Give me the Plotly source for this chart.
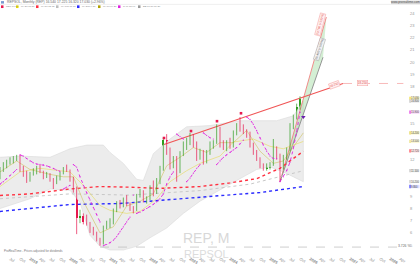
import plotly.graph_objects as go

# ---------------- data (month index: 0 = Jan 2018) ----------------
months = list(range(3, 94))  # Apr 2018 .. Oct 2025
opens = [10.5, 11.2, 11.6, 11.8, 11.9, 12.1, 12.2, 11.2, 10.9, 10.3, 10.9, 11.1, 11.2, 11.0, 10.6, 10.8, 10.4, 10.1,
         10.6, 10.9, 11.2, 11.1, 10.4, 9.6, 7.2, 7.4, 6.9, 6.8, 6.2, 6.0, 5.4, 5.1, 6.5, 6.7, 6.8, 7.9, 8.4, 8.2, 8.7,
         8.4, 8.0, 7.9, 9.0, 9.4, 8.7, 8.8, 9.7, 9.6, 10.2, 11.3, 13.6, 12.8, 11.5, 12.1, 11.0, 12.5, 13.3, 13.5, 13.9,
         13.3, 12.4, 12.5, 11.8, 12.6, 13.3, 13.4, 14.6, 13.2, 13.0, 13.5, 13.2, 14.2, 14.8, 14.6, 14.3, 14.0, 13.2,
         12.6, 12.0, 11.5, 11.3, 11.4, 11.6, 12.9, 12.3, 11.4, 12.2, 12.8, 14.8, 15.5, 16.3]
highs = [11.4, 11.8, 12.0, 12.2, 12.3, 12.4, 12.4, 11.5, 11.1, 11.0, 11.3, 11.5, 11.6, 11.1, 11.0, 10.9, 10.5, 10.7,
         11.0, 11.4, 11.6, 11.2, 10.6, 9.8, 7.9, 7.6, 7.5, 6.9, 6.5, 6.1, 5.6, 6.6, 7.0, 7.2, 8.0, 8.6, 8.7, 8.9, 9.1,
         8.5, 8.2, 9.2, 9.6, 9.5, 9.0, 9.9, 10.3, 10.5, 11.5, 13.8, 14.1, 13.0, 12.3, 12.3, 12.7, 13.5, 13.8, 14.2,
         14.1, 13.5, 12.9, 12.8, 12.8, 13.5, 13.6, 14.9, 14.7, 13.6, 13.6, 13.8, 14.4, 15.0, 15.5, 14.9, 14.5, 14.3,
         13.4, 12.8, 12.2, 11.7, 11.7, 11.8, 13.7, 13.1, 12.5, 12.4, 13.0, 15.0, 15.7, 16.6, 17.2]
lows = [10.4, 11.0, 11.3, 11.6, 11.7, 11.9, 11.0, 10.6, 10.1, 10.2, 10.7, 10.8, 10.9, 10.4, 10.5, 10.2, 9.6, 10.0,
        10.3, 10.8, 11.0, 10.2, 9.3, 5.9, 6.8, 6.7, 6.6, 6.0, 5.8, 5.3, 4.95, 5.05, 6.3, 6.4, 6.7, 7.7, 8.0, 8.1, 8.2,
        7.8, 7.6, 7.8, 8.9, 8.5, 8.4, 8.7, 9.0, 9.2, 10.0, 11.1, 12.4, 11.2, 11.3, 10.2, 10.9, 12.3, 12.8, 13.2, 13.0,
        11.9, 12.0, 11.6, 11.7, 12.4, 12.9, 13.3, 13.0, 12.8, 12.7, 12.9, 13.0, 14.0, 14.3, 14.1, 13.8, 13.0, 12.4,
        11.9, 11.3, 11.1, 11.1, 11.2, 11.5, 12.0, 10.2, 11.2, 12.0, 12.7, 14.5, 15.3, 16.1]
closes = [11.2, 11.6, 11.8, 11.9, 12.1, 12.2, 11.2, 10.9, 10.3, 10.9, 11.1, 11.2, 11.0, 10.6, 10.8, 10.4, 10.1, 10.6,
          10.9, 11.2, 11.1, 10.4, 9.6, 7.2, 7.4, 6.9, 6.8, 6.2, 6.0, 5.4, 5.1, 6.5, 6.7, 6.8, 7.9, 8.4, 8.2, 8.7, 8.4,
          8.0, 7.9, 9.0, 9.4, 8.7, 8.8, 9.7, 9.6, 10.2, 11.3, 13.6, 12.8, 11.5, 12.1, 11.0, 12.5, 13.3, 13.5, 13.9,
          13.3, 12.4, 12.6, 11.8, 12.6, 13.3, 13.4, 14.6, 13.2, 13.0, 13.5, 13.2, 14.2, 14.8, 14.6, 14.3, 14.0, 13.2,
          12.6, 12.0, 11.5, 11.3, 11.4, 11.5, 12.9, 12.3, 11.4, 12.2, 12.8, 14.8, 15.5, 16.3, 17.0]

# Parabolic SAR values per month, and months where it flips side
sar = [10.0, 10.2, 10.45, 10.7, 10.95, 11.2, 12.4, 12.3, 12.1, 11.9, 11.75, 11.65, 11.62, 11.58, 11.5, 11.4, 11.3,
       11.15, 11.05, 9.6, 9.75, 9.9, 11.6, 11.4, 10.6, 9.9, 9.3, 8.7, 8.1, 7.5, 6.9, 4.95, 5.05, 5.2, 5.4, 5.7, 6.1,
       6.5, 6.9, 7.3, 9.1, 7.6, 7.7, 7.85, 8.0, 8.15, 8.35, 8.55, 8.8, 9.2, 10.0, 10.6, 11.0, 14.1, 13.9, 13.7, 10.2,
       10.5, 10.9, 11.3, 11.6, 14.2, 14.0, 13.8, 13.7, 11.6, 11.9, 12.2, 12.4, 12.6, 12.8, 13.0, 13.3, 13.6, 15.5,
       15.3, 14.9, 14.4, 13.8, 13.2, 12.7, 12.3, 12.1, 12.1, 10.2, 10.6, 11.1, 11.8, 12.9, 14.3, 15.9]
sar_flips = [9, 22, 25, 34, 43, 44, 56, 59, 64, 68, 77, 87]

# Bollinger bands (read points)
bb_up_m = [3, 9, 18, 24, 29, 34, 36, 40, 44, 46, 49, 54, 59, 66, 75, 86, 91, 94]
bb_up = [12.2, 12.3, 12.2, 12.9, 13.2, 13.2, 12.6, 11.7, 10.4, 10.3, 12.5, 13.7, 14.7, 14.8, 15.2, 15.2, 15.6, 16.8]
bb_lo_m = [3, 12, 18, 24, 27, 30, 33, 36, 40, 44, 48, 53, 58, 63, 68, 74, 80, 84, 88, 94]
bb_lo = [8.0, 8.8, 9.6, 9.5, 8.5, 5.8, 4.9, 4.6, 4.6, 4.9, 5.6, 6.4, 7.6, 8.6, 9.4, 10.3, 11.2, 11.4, 11.0, 10.2]
bb_mid_m = [3, 9, 15, 24, 28, 33, 36, 41, 45, 50, 54, 59, 63, 69, 73, 79, 84, 88, 94]
bb_mid = [9.8, 11.0, 11.3, 11.0, 9.9, 8.25, 7.85, 7.6, 7.76, 8.8, 10.2, 11.1, 11.7, 12.3, 13.45, 13.7, 13.1, 12.9, 13.5]

# moving averages (read points)
ma_fast_m = [3, 8, 12, 18, 22, 25, 28, 33, 37, 41, 45, 49, 53, 57, 61, 65, 69, 73, 77, 81, 85, 88, 94]
ma_fast = [11.0, 11.9, 11.2, 10.8, 10.6, 10.6, 8.6, 6.0, 6.5, 8.2, 8.6, 9.2, 11.5, 12.2, 13.0, 12.6, 13.4, 13.4,
           14.4, 12.7, 11.7, 11.9, 14.2]
ma_red_m = [3, 12, 24, 33, 42, 51, 63, 72, 80, 87, 94]
ma_red = [9.07, 9.2, 9.6, 9.8, 9.75, 9.65, 9.8, 10.1, 10.45, 11.3, 12.7]
ma_gray_m = [3, 24, 42, 63, 78, 94]
ma_gray = [8.8, 9.2, 9.1, 9.47, 10.0, 11.1]
ma_blue_m = [3, 24, 39, 51, 66, 81, 94]
ma_blue = [7.76, 8.33, 8.41, 8.66, 8.98, 9.31, 9.8]

# drawings
trend_m = [52.2, 105.9]
trend_p = [13.25, 18.25]
fan_m = [87.0, 100.9, 99.9]
fan_p = [10.2, 23.7, 20.4]
fractal_m = [52.2, 60.3, 68.1, 75.3]
fractal_p = [13.78, 14.35, 15.16, 15.81]

year_ticks = list(range(6, 127, 3))
month_names = {3: "Apr", 6: "Jul", 9: "Oct"}
tick_text = []
for m in year_ticks:
    if m % 12 == 0:
        tick_text.append("<b>%d</b>" % (2018 + m // 12))
    else:
        tick_text.append(month_names[m % 12])

# right axis value labels: (value, colour, background)
value_labels = [(17.03, "#f0dc30", "#fbf3c0"), (16.80, "#bbbbbb", "#eeeeee"), (15.90, "#e020e0", "#f8d8f8"),
                (14.20, "#e0d040", "#faf5c8"), (13.50, "#e8dc70", "#fbf7d6"), (12.72, "#ff3040", "#fde0e2"),
                (11.10, "#bdbdbd", "#efefef"), (10.20, "#bdbdbd", "#f7f7f7"), (9.80, "#2b2bff", "#dcdcff")]
price_ticks = [p for p in range(5, 25) if all(abs(p - v) > 0.3 for v, _, _ in value_labels)]

legend_items = [(1, "#e8194f", "REP 17.03"), (16, "#e8d800", "MA20 13.50"), (36, "#ff3040", "MA50 12.72"),
                (56, "#bdbdbd", "MA100 11.10"), (77, "#2b2bff", "MA200 9.80"),
                (98, "#b0a000", "MA10 14.20"), (118, "#e020e0", "SAR 15.90"),
                (138, "#9a9a9a", "BB 16.80 10.20")]

# ---------------- layout helpers ----------------
W, H = 420, 265
ML, MR, MT, MB = 0, 14, 12, 8
PW, PH = W - ML - MR, H - MT - MB


def fx(x):
    return (x - ML) / PW


def fy(y):
    return (H - MB - y) / PH


def ypx(v):
    return 247 - (v - 5) * 12.3


GREEN = "#2f9e1f"
RED = "#e8194f"

fig = go.Figure()

# Bollinger fill
fig.add_trace(go.Scatter(x=bb_up_m + bb_lo_m[::-1], y=bb_up + bb_lo[::-1], mode="lines", fill="toself",
                         fillcolor="#ececec", line=dict(color="#dadada", width=0.6), hoverinfo="skip"))

# fan / channel drawing
fig.add_trace(go.Scatter(x=fan_m, y=fan_p, mode="none", fill="toself", fillcolor="rgba(160,220,160,0.45)",
                         hoverinfo="skip"))
fig.add_trace(go.Scatter(x=[fan_m[0], fan_m[1]], y=[fan_p[0], fan_p[1]], mode="lines",
                         line=dict(color="#f08080", width=0.9)))
fig.add_trace(go.Scatter(x=[fan_m[0], fan_m[2]], y=[fan_p[0], fan_p[2]], mode="lines",
                         line=dict(color="#8a8a8a", width=0.9)))

# moving averages
fig.add_trace(go.Scatter(x=ma_blue_m, y=ma_blue, mode="lines", line=dict(color="#2b2bff", width=1.4, dash="dot")))
fig.add_trace(go.Scatter(x=ma_gray_m, y=ma_gray, mode="lines", line=dict(color="#c8c8c8", width=1.0, dash="dot")))
fig.add_trace(go.Scatter(x=ma_red_m, y=ma_red, mode="lines", line=dict(color="#ff3040", width=1.4, dash="dot")))
fig.add_trace(go.Scatter(x=bb_mid_m, y=bb_mid, mode="lines", line=dict(color="#e8dc70", width=0.7)))
fig.add_trace(go.Scatter(x=ma_fast_m, y=ma_fast, mode="lines", line=dict(color="#c8b840", width=0.5)))

# trend line
fig.add_trace(go.Scatter(x=trend_m, y=trend_p, mode="lines", line=dict(color="#f05555", width=1.1)))
fig.add_trace(go.Scatter(x=[trend_m[1], 124], y=[trend_p[1], trend_p[1]], mode="lines",
                         line=dict(color="#f6a8a8", width=0.8, dash="dash")))

# candles: wicks + bodies
for up, col in ((True, GREEN), (False, RED)):
    wx, wy = [], []
    for m, o, h, l, c in zip(months, opens, highs, lows, closes):
        if (c >= o) == up:
            wx += [m, m, None]
            wy += [l, h, None]
    fig.add_trace(go.Scatter(x=wx, y=wy, mode="lines", line=dict(color=col, width=0.7), hoverinfo="skip"))
fig.add_trace(go.Bar(x=months, y=[max(abs(c - o), 0.06) for o, c in zip(opens, closes)],
                     base=[min(o, c) for o, c in zip(opens, closes)],
                     marker=dict(color=[GREEN if c >= o else RED for o, c in zip(opens, closes)],
                                 line=dict(width=0)),
                     width=0.62, hoverinfo="skip"))

# SAR segments
sx, sy = [], []
for m, v in zip(months, sar):
    if m in sar_flips:
        sx.append(None)
        sy.append(None)
    sx.append(m)
    sy.append(v)
fig.add_trace(go.Scatter(x=sx, y=sy, mode="lines", line=dict(color="#e020e0", width=0.9, dash="dot")))
fig.add_trace(go.Scatter(x=months, y=sar, mode="markers", marker=dict(color="#e020e0", size=1.2)))

# fractal markers
fig.add_trace(go.Scatter(x=fractal_m, y=fractal_p, mode="markers",
                         marker=dict(symbol="square", color=RED, size=2.6)))
# signal marker
fig.add_trace(go.Scatter(x=[94.0], y=[15.5], mode="markers",
                         marker=dict(symbol="triangle-down", color="#6a1fb0", size=4)))

# low reference dashed line
fig.add_trace(go.Scatter(x=[33, 124], y=[4.84, 4.84], mode="lines",
                         line=dict(color="#b8b8b8", width=0.7, dash="dash")))

fig.update_layout(
    width=W, height=H, margin=dict(l=ML, r=MR, t=MT, b=MB),
    paper_bgcolor="white", plot_bgcolor="white", showlegend=False, bargap=0,
    font=dict(family="Liberation Sans, Arial, sans-serif", color="#777"),
    xaxis=dict(range=[3.0, 3.0 + PW / 3.3333], tickvals=year_ticks, ticktext=tick_text,
               tickfont=dict(size=4, color="#888"), showgrid=False, zeroline=False, showline=False,
               ticks="", fixedrange=True, ticklabelstandoff=0),
    yaxis=dict(range=[4.19, 24.11], side="right", tickvals=price_ticks,
               tickfont=dict(size=4, color="#999"), showgrid=False, zeroline=False, showline=False,
               ticks="", fixedrange=True, ticklabelstandoff=3),
)

ann = []
shapes = []
# watermark
ann.append(dict(x=fx(206), y=fy(240), xref="paper", yref="paper", text="REP, M", showarrow=False,
                font=dict(size=14, color="#d8d8d8", family="Liberation Sans, Arial"), xanchor="center",
                yanchor="middle"))
ann.append(dict(x=fx(206), y=fy(255.5), xref="paper", yref="paper", text="REPSOL", showarrow=False,
                font=dict(size=11, color="#dcdcdc", family="Liberation Sans, Arial"), xanchor="center",
                yanchor="middle"))
# header
shapes.append(dict(type="line", xref="paper", yref="paper", x0=fx(0), x1=fx(420), y0=fy(4.3), y1=fy(4.3),
                   line=dict(color="#e4e4e4", width=0.6)))
ann.append(dict(x=fx(5), y=fy(2.2), xref="paper", yref="paper",
                text="REPSOL, Monthly (REP) 16.540 17.225 16.320 17.030 (+2.96%)", showarrow=False,
                font=dict(size=3.4, color="#666"), xanchor="left", yanchor="middle"))
shapes.append(dict(type="rect", xref="paper", yref="paper", x0=fx(1), x1=fx(4), y0=fy(3.5), y1=fy(1),
                   fillcolor="#7a9bd0", line=dict(width=0)))
shapes.append(dict(type="rect", xref="paper", yref="paper", x0=fx(391), x1=fx(420), y0=fy(4), y1=fy(0.5),
                   fillcolor="#d4d4d4", line=dict(width=0)))
ann.append(dict(x=fx(405), y=fy(2.2), xref="paper", yref="paper", text="www.prorealtime.com", showarrow=False,
                font=dict(size=3, color="#555"), xanchor="center", yanchor="middle"))
for x, c, t in legend_items:
    shapes.append(dict(type="rect", xref="paper", yref="paper", x0=fx(x), x1=fx(x + 2.5), y0=fy(8), y1=fy(5.3),
                       fillcolor=c, line=dict(width=0)))
    ann.append(dict(x=fx(x + 3.0), y=fy(6.7), xref="paper", yref="paper", text=t, showarrow=False,
                    font=dict(size=2.5, color="#888"), xanchor="left", yanchor="middle"))
# bottom-left source text
ann.append(dict(x=fx(2), y=fy(253), xref="paper", yref="paper",
                text="ProRealTime - Prices adjusted for dividends", showarrow=False,
                font=dict(size=3, color="#777"), xanchor="left", yanchor="middle"))
ann.append(dict(x=fx(396), y=fy(247.5), xref="paper", yref="paper", text="3.726 %", showarrow=False,
                font=dict(size=3.4, color="#666"), xanchor="left", yanchor="middle"))

for v, c, bg in value_labels:
    yv = ypx(v)
    shapes.append(dict(type="rect", xref="paper", yref="paper", x0=fx(409.5), x1=fx(419.5), y0=fy(yv + 1.7),
                       y1=fy(yv - 1.7), fillcolor=bg, line=dict(width=0)))
    shapes.append(dict(type="rect", xref="paper", yref="paper", x0=fx(409.5), x1=fx(410.5), y0=fy(yv + 1.7),
                       y1=fy(yv - 1.7), fillcolor=c, line=dict(width=0)))
    ann.append(dict(x=fx(414.8), y=fy(yv), xref="paper", yref="paper", text="%.3f" % v, showarrow=False,
                    font=dict(size=2.6, color="#444"), xanchor="center", yanchor="middle"))

# trendline labels
yv = ypx(18.25)
ann.append(dict(x=fx(362), y=fy(yv), xref="paper", yref="paper", text="18.250", showarrow=False,
                font=dict(size=3, color="#e05050"), bgcolor="#fff0f0", bordercolor="#f4a0a0", borderwidth=0.5,
                borderpad=0.3, xanchor="center", yanchor="middle"))
ann.append(dict(x=fx(334), y=fy(yv + 2), xref="paper", yref="paper", text="18.250", showarrow=False,
                textangle=-20, font=dict(size=3, color="#e05050"), bgcolor="#fff0f0", bordercolor="#f4a0a0",
                borderwidth=0.5, borderpad=0.3, xanchor="center", yanchor="middle"))
ann.append(dict(x=fx(320), y=fy(25), xref="paper", yref="paper", text="23.700 (+132%)", showarrow=False,
                textangle=-75, font=dict(size=3, color="#e05050"), bgcolor="#fff0f0", bordercolor="#f4a0a0",
                borderwidth=0.5, borderpad=0.3, xanchor="center", yanchor="middle"))
ann.append(dict(x=fx(319), y=fy(50), xref="paper", yref="paper", text="20.400 (+100%)", showarrow=False,
                textangle=-72, font=dict(size=3, color="#666"), bgcolor="#f2f2f2", bordercolor="#aaaaaa",
                borderwidth=0.5, borderpad=0.3, xanchor="center", yanchor="middle"))

fig.update_layout(annotations=ann, shapes=shapes)
fig.write_html("out.html")
